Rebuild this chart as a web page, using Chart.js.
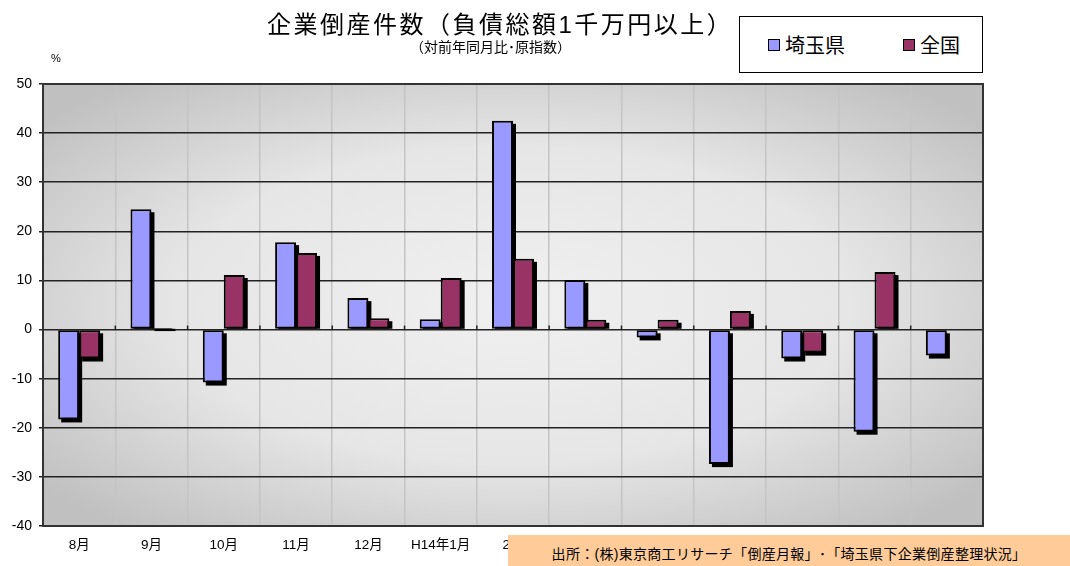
<!DOCTYPE html>
<html>
<head>
<meta charset="utf-8">
<script src="https://cdn.jsdelivr.net/npm/chart.js@4"></script>
<style>
  body { margin: 0; background: #fff; font-family: "Liberation Sans", "Noto Sans CJK JP", sans-serif; }
  #wrap { position: relative; width: 1070px; height: 566px; overflow: hidden; }
  #title { position: absolute; left: 267px; top: 5px; font-size: 24px; letter-spacing: 2.5px; white-space: nowrap; color: #000; }
  #sub { position: absolute; left: 410px; top: 36px; font-size: 14px; white-space: nowrap; color: #000; }
  #pct { position: absolute; left: 51px; top: 52px; font-size: 11px; color: #000; }
  #legend { position: absolute; left: 739px; top: 16px; width: 244px; height: 57px; border: 1px solid #000; background: #fff; box-sizing: border-box; }
  .item { position: absolute; top: 17px; font-size: 20px; line-height: 24px; white-space: nowrap; }
  .sw { display: inline-block; width: 10px; height: 10px; border: 1px solid #000; margin-right: 5px; vertical-align: 2px; }
  #src { position: absolute; left: 508px; top: 535px; width: 562px; height: 31px; background: #ffcc99; font-size: 14px; letter-spacing: 0.3px; line-height: 39px; text-align: center; white-space: nowrap; }
</style>
</head>
<body>
<div id="wrap">
  <canvas id="myChart" width="1070" height="566"></canvas>
  <div id="title">企業倒産件数（負債総額1千万円以上）</div>
  <div id="sub">（対前年同月比･原指数）</div>
  <div id="pct">%</div>
  <div id="legend">
    <div class="item" style="left:28px"><span class="sw" style="background:#9999ff"></span>埼玉県</div>
    <div class="item" style="left:163px"><span class="sw" style="background:#993366"></span>全国</div>
  </div>
  <div id="src">出所：(株)東京商工リサーチ「倒産月報」･「埼玉県下企業倒産整理状況」</div>
</div>
<script>
var months = ["8月", "9月", "10月", "11月", "12月", "H14年1月", "2月", "3月", "4月", "5月", "6月", "7月", "8月"];
var saitama = [-18.3, 24.5, -10.8, 17.8, 6.4, 2.1, 42.5, 10.1, -1.6, -27.4, -5.9, -20.8, -5.3];
var zenkoku = [-5.9, 0.3, 11.1, 15.6, 2.3, 10.5, 14.4, 2.0, 2.0, 3.8, -4.7, 11.7, null];
var yMin = -40, yMax = 50, yStep = 10;

// gradient plot background + outer frame
var plotBg = {
  id: 'plotBg',
  beforeDraw: function (chart) {
    var a = chart.chartArea, ctx = chart.ctx;
    var cx = (a.left + a.right) / 2, cy = (a.top + a.bottom) / 2;
    var rx = (a.right - a.left) / 2, ry = (a.bottom - a.top) / 2;
    ctx.save();
    ctx.beginPath();
    ctx.rect(a.left, a.top, a.right - a.left, a.bottom - a.top);
    ctx.clip();
    ctx.translate(cx, cy);
    ctx.scale(1, ry / rx);
    var g = ctx.createRadialGradient(0, 0, 0, 0, 0, rx * 1.3);
    g.addColorStop(0, '#f0f0f0');
    g.addColorStop(0.55, '#e6e6e6');
    g.addColorStop(1, '#c0c0c0');
    ctx.fillStyle = g;
    ctx.fillRect(-rx * 1.5, -rx * 1.5, rx * 3, rx * 3);
    ctx.restore();
  },
  afterDraw: function (chart) {
    var a = chart.chartArea, ctx = chart.ctx;
    ctx.save();
    ctx.strokeStyle = '#333';
    ctx.lineWidth = 2;
    ctx.strokeRect(a.left, a.top, a.right - a.left, a.bottom - a.top);
    ctx.restore();
  }
};

// drop shadow under each bar
var barShadow = {
  id: 'barShadow',
  beforeDatasetsDraw: function (chart) {
    var ctx = chart.ctx;
    ctx.save();
    ctx.fillStyle = '#000';
    chart.data.datasets.forEach(function (ds, i) {
      chart.getDatasetMeta(i).data.forEach(function (el) {
        var p = el.getProps(['x', 'y', 'base', 'width'], true);
        if (isNaN(p.y)) return;
        if (p.y < p.base) {
          ctx.fillRect(p.x - p.width / 2 + 3, p.y + 3, p.width, p.base - p.y - 3);
        } else {
          ctx.fillRect(p.x - p.width / 2 + 3, p.base + 3, p.width, p.y - p.base);
        }
      });
    });
    ctx.restore();
  },
  afterDatasetsDraw: function (chart) {
    // small tick marks on the zero line at category boundaries
    var ctx = chart.ctx, x = chart.scales.x, y = chart.scales.y;
    var y0 = y.getPixelForValue(0);
    var half = (x.getPixelForValue(1) - x.getPixelForValue(0)) / 2;
    ctx.save();
    ctx.strokeStyle = '#222';
    ctx.lineWidth = 1.5;
    for (var i = 0; i <= months.length; i++) {
      var px = x.getPixelForValue(0) - half + i * half * 2;
      ctx.beginPath();
      ctx.moveTo(px, y0 - 4);
      ctx.lineTo(px, y0);
      ctx.stroke();
    }
    ctx.restore();
  }
};

var ctx = document.getElementById('myChart');
var chart = new Chart(ctx, {
  type: 'bar',
  data: {
    labels: months,
    datasets: [
      { label: '埼玉県', data: saitama, backgroundColor: '#9999ff', borderColor: '#000', borderWidth: 2, borderSkipped: false },
      { label: '全国', data: zenkoku, backgroundColor: '#993366', borderColor: '#000', borderWidth: 2, borderSkipped: false }
    ]
  },
  options: {
    responsive: false,
    animation: false,
    devicePixelRatio: 1,
    layout: { padding: { left: 0, top: 84, right: 87, bottom: 0 } },
    datasets: { bar: { categoryPercentage: 0.58, barPercentage: 1 } },
    plugins: { legend: { display: false }, tooltip: { enabled: false } },
    scales: {
      x: {
        afterFit: function (s) { s.height = 40; },
        grid: { offset: true, color: '#c4c4c4', lineWidth: 1.5, drawTicks: false },
        border: { display: false },
        ticks: { color: '#000', font: { family: '"Liberation Sans", "Noto Sans CJK JP"', size: 13.5 }, padding: 11, maxRotation: 0, autoSkip: false }
      },
      y: {
        min: yMin, max: yMax,
        afterFit: function (s) { s.width = 43; },
        grid: { color: '#222', lineWidth: 1.5, tickLength: 4 },
        border: { display: false },
        ticks: { stepSize: yStep, color: '#000', font: { family: '"Liberation Sans"', size: 14 }, padding: 7 }
      }
    }
  },
  plugins: [plotBg, barShadow]
});
</script>
</body>
</html>
